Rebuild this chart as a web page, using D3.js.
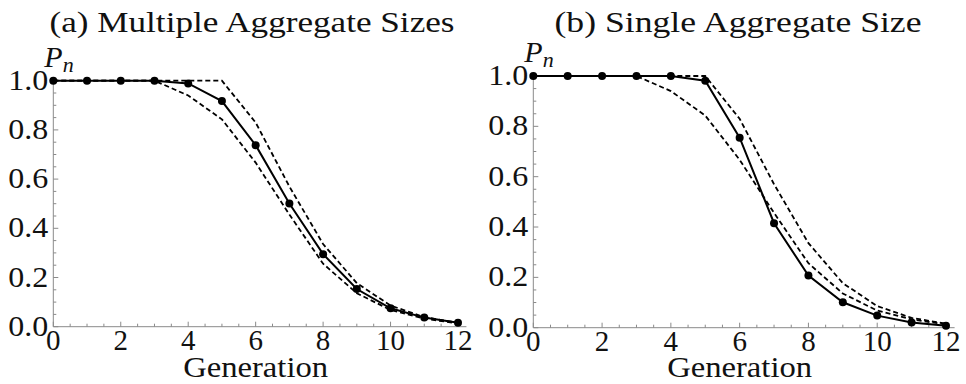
<!DOCTYPE html>
<html>
<head>
<meta charset="utf-8">
<script src="https://cdn.jsdelivr.net/npm/d3@7"></script>
<style>
  body { margin: 0; background: #fff; }
  svg text { fill: #111; }
</style>
</head>
<body>
<script>
  // data
  const generations = [0, 1, 2, 3, 4, 5, 6, 7, 8, 9, 10, 11, 12];
  const upperBound = [1, 1, 1, 1, 1, 1, 0.83, 0.57, 0.336, 0.177, 0.086, 0.039, 0.016];
  const lowerBound = [1, 1, 1, 1, 0.94, 0.843, 0.667, 0.456, 0.256, 0.136, 0.068, 0.033, 0.013];
  const multipleSizes = [1, 1, 1, 1, 0.989, 0.917, 0.738, 0.501, 0.295, 0.153, 0.075, 0.037, 0.016];
  const singleSize = [1, 1, 1, 1, 1, 0.981, 0.755, 0.415, 0.207, 0.101, 0.048, 0.021, 0.008];
  const xTicks = [0, 2, 4, 6, 8, 10, 12];
  const yTicks = [0, 0.2, 0.4, 0.6, 0.8, 1.0];

  const W = 966, H = 384;
  const serif = '"Liberation Serif", "DejaVu Serif", "Noto Serif", "Noto Serif CJK SC", "Tinos", "FreeSerif", "Times New Roman", serif';
  const svg = d3.select('body').append('svg').attr('width', W).attr('height', H)
    .attr('font-family', serif);

  const panels = [
    { title: '(a) Multiple Aggregate Sizes', sim: multipleSizes, x0: 53.3, x1: 458, y0: 326.7, y1: 80.7, titleX: 252, titleW: 405 },
    { title: '(b) Single Aggregate Size', sim: singleSize, x0: 533.3, x1: 946, y0: 327.7, y1: 76, titleX: 738, titleW: 367 }
  ];

  const axisColor = '#8a8a8a';

  panels.forEach(function (p) {
    const x = d3.scaleLinear().domain([0, 12]).range([p.x0, p.x1]);
    const y = d3.scaleLinear().domain([0, 1]).range([p.y0, p.y1]);
    const g = svg.append('g');

    // axes, ticks pointing inward
    g.append('line').attr('x1', x(0)).attr('x2', x(12.25)).attr('y1', y(0)).attr('y2', y(0))
      .attr('stroke', axisColor).attr('stroke-width', 1);
    g.append('line').attr('x1', x(0)).attr('x2', x(0)).attr('y1', y(0)).attr('y2', y(1.0))
      .attr('stroke', axisColor).attr('stroke-width', 1);

    const xMinor = d3.range(0, 12.01, 0.5);
    g.selectAll('.xt').data(xMinor).enter().append('line')
      .attr('x1', d => x(d)).attr('x2', d => x(d))
      .attr('y1', y(0)).attr('y2', d => y(0) - (d % 2 === 0 ? 5 : 3))
      .attr('stroke', axisColor).attr('stroke-width', 1);
    const yMinor = d3.range(0, 1.001, 0.05);
    g.selectAll('.yt').data(yMinor).enter().append('line')
      .attr('y1', d => y(d)).attr('y2', d => y(d))
      .attr('x1', x(0)).attr('x2', d => x(0) + (Math.round(d * 100) % 20 === 0 ? 5 : 3))
      .attr('stroke', axisColor).attr('stroke-width', 1);

    g.selectAll('.xl').data(xTicks).enter().append('text')
      .attr('x', d => x(d)).attr('y', y(0) + 23)
      .attr('text-anchor', 'middle').style('font-family', serif).style('font-size', '29px')
      .text(d => d);
    g.selectAll('.yl').data(yTicks).enter().append('text')
      .attr('x', x(0) - 5).attr('y', d => y(d) + 9)
      .attr('text-anchor', 'end').style('font-family', serif).style('font-size', '29px')
      .attr('textLength', 40).attr('lengthAdjust', 'spacingAndGlyphs')
      .text(d => d.toFixed(1));

    g.append('text').attr('x', (p.x0 + p.x1) / 2).attr('y', 377)
      .attr('text-anchor', 'middle').style('font-family', serif).style('font-size', '29px')
      .attr('textLength', 145).attr('lengthAdjust', 'spacingAndGlyphs')
      .text('Generation');

    const pn = g.append('text').attr('x', x(0) - 9).attr('y', y(1) - 14)
      .style('font-family', serif).style('font-size', '30px').style('font-style', 'italic');
    pn.append('tspan').text('P');
    pn.append('tspan').attr('dy', 5).style('font-size', '22px').text('n');

    g.append('text').attr('x', p.titleX).attr('y', 32)
      .attr('text-anchor', 'middle').style('font-family', serif).style('font-size', '30px')
      .attr('textLength', p.titleW).attr('lengthAdjust', 'spacingAndGlyphs')
      .text(p.title);

    const line = d3.line().x((d, i) => x(generations[i])).y(d => y(d));

    [upperBound, lowerBound].forEach(function (series) {
      g.append('path').datum(series).attr('d', line)
        .attr('fill', 'none').attr('stroke', '#000').attr('stroke-width', 1.8)
        .attr('stroke-dasharray', '5,3');
    });

    g.append('path').datum(p.sim).attr('d', line)
      .attr('fill', 'none').attr('stroke', '#000').attr('stroke-width', 2);
    g.selectAll('.dot').data(p.sim).enter().append('circle')
      .attr('cx', (d, i) => x(generations[i])).attr('cy', d => y(d))
      .attr('r', 4).attr('fill', '#000');
  });
</script>
</body>
</html>
